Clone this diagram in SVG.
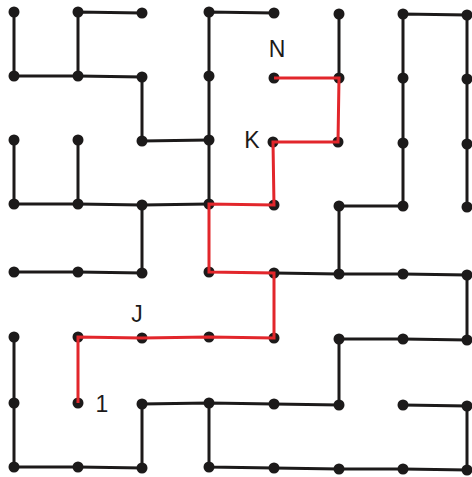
<svg xmlns="http://www.w3.org/2000/svg" width="472" height="477" viewBox="0 0 472 477">
<style>
.b{fill:none;stroke:#1c1a1a;stroke-width:3;stroke-linejoin:miter;stroke-linecap:butt}
.r{fill:none;stroke:#e2262b;stroke-width:3;stroke-linejoin:miter}
.n{fill:#1c1a1a}
.t{font-family:"Liberation Sans",Arial,sans-serif;font-size:23px;fill:#1c1a1a}
</style>
<rect width="472" height="477" fill="#ffffff"/>
<g id="connectors">
<polyline class="b" points="14,12 14,76 78,76 142,77 142,141 209,140"/>
<polyline class="b" points="142,13 78,12 78,76"/>
<polyline class="b" points="274,13 209,12 209,204"/>
<polyline class="b" points="14,140 14,204 78,204 142,205 209,204"/>
<polyline class="b" points="78,140 78,204"/>
<polyline class="b" points="142,205 142,273 78,272 14,272"/>
<polyline class="b" points="339,14 339,78"/>
<polyline class="b" points="403,206 403,14 467,15 467,207"/>
<polyline class="b" points="403,206 339,206 339,274"/>
<polyline class="b" points="274,273 339,274 403,274 467,275 467,340 403,339 339,339 339,405 274,404 209,403 142,404 142,468 78,467 14,467 14,337"/>
<polyline class="b" points="209,403 209,467 274,468 339,469 403,469 467,470 467,406 403,405"/>
</g>
<g id="nodes" class="n">
<g id="n00"><circle cx="14" cy="12" r="5.5"/></g>
<g id="n10"><circle cx="78" cy="12" r="5.5"/></g>
<g id="n20"><circle cx="142" cy="13" r="5.5"/></g>
<g id="n30"><circle cx="209" cy="12" r="5.5"/></g>
<g id="n40"><circle cx="274" cy="13" r="5.5"/></g>
<g id="n50"><circle cx="339" cy="14" r="5.5"/></g>
<g id="n60"><circle cx="403" cy="14" r="5.5"/></g>
<g id="n70"><circle cx="467" cy="15" r="5.5"/></g>

<g id="n01"><circle cx="14" cy="76" r="5.5"/></g>
<g id="n11"><circle cx="78" cy="76" r="5.5"/></g>
<g id="n21"><circle cx="142" cy="77" r="5.5"/></g>
<g id="n31"><circle cx="209" cy="76" r="5.5"/></g>
<g id="n41"><circle cx="274" cy="78" r="5.5"/><text class="t" x="277" y="57" text-anchor="middle">N</text></g>
<g id="n51"><circle cx="339" cy="78" r="5.5"/></g>
<g id="n61"><circle cx="403" cy="78" r="5.5"/></g>
<g id="n71"><circle cx="467" cy="79" r="5.5"/></g>

<g id="n02"><circle cx="14" cy="140" r="5.5"/></g>
<g id="n12"><circle cx="78" cy="140" r="5.5"/></g>
<g id="n22"><circle cx="142" cy="141" r="5.5"/></g>
<g id="n32"><circle cx="209" cy="140" r="5.5"/></g>
<g id="n42"><circle cx="273" cy="142" r="5.5"/><text class="t" x="252" y="148" text-anchor="middle">K</text></g>
<g id="n52"><circle cx="338" cy="142" r="5.5"/></g>
<g id="n62"><circle cx="403" cy="143" r="5.5"/></g>
<g id="n72"><circle cx="467" cy="144" r="5.5"/></g>

<g id="n03"><circle cx="14" cy="204" r="5.5"/></g>
<g id="n13"><circle cx="78" cy="204" r="5.5"/></g>
<g id="n23"><circle cx="142" cy="205" r="5.5"/></g>
<g id="n33"><circle cx="209" cy="204" r="5.5"/></g>
<g id="n43"><circle cx="274" cy="205" r="5.5"/></g>
<g id="n53"><circle cx="339" cy="206" r="5.5"/></g>
<g id="n63"><circle cx="403" cy="206" r="5.5"/></g>
<g id="n73"><circle cx="467" cy="207" r="5.5"/></g>

<g id="n04"><circle cx="14" cy="272" r="5.5"/></g>
<g id="n14"><circle cx="78" cy="272" r="5.5"/></g>
<g id="n24"><circle cx="142" cy="273" r="5.5"/></g>
<g id="n34"><circle cx="209" cy="272" r="5.5"/></g>
<g id="n44"><circle cx="274" cy="273" r="5.5"/></g>
<g id="n54"><circle cx="339" cy="274" r="5.5"/></g>
<g id="n64"><circle cx="403" cy="274" r="5.5"/></g>
<g id="n74"><circle cx="467" cy="275" r="5.5"/></g>

<g id="n05"><circle cx="14" cy="337" r="5.5"/></g>
<g id="n15"><circle cx="78" cy="337" r="5.5"/></g>
<g id="n25"><circle cx="142" cy="338" r="5.5"/><text class="t" x="137" y="322" text-anchor="middle">J</text></g>
<g id="n35"><circle cx="209" cy="337" r="5.5"/></g>
<g id="n45"><circle cx="274" cy="338" r="5.5"/></g>
<g id="n55"><circle cx="339" cy="339" r="5.5"/></g>
<g id="n65"><circle cx="403" cy="339" r="5.5"/></g>
<g id="n75"><circle cx="467" cy="340" r="5.5"/></g>

<g id="n06"><circle cx="14" cy="403" r="5.5"/></g>
<g id="n16"><circle cx="78" cy="403" r="5.5"/><text class="t" x="102" y="412" text-anchor="middle">1</text></g>
<g id="n26"><circle cx="142" cy="404" r="5.5"/></g>
<g id="n36"><circle cx="209" cy="403" r="5.5"/></g>
<g id="n46"><circle cx="274" cy="404" r="5.5"/></g>
<g id="n56"><circle cx="339" cy="405" r="5.5"/></g>
<g id="n66"><circle cx="403" cy="405" r="5.5"/></g>
<g id="n76"><circle cx="467" cy="406" r="5.5"/></g>

<g id="n07"><circle cx="14" cy="467" r="5.5"/></g>
<g id="n17"><circle cx="78" cy="467" r="5.5"/></g>
<g id="n27"><circle cx="142" cy="468" r="5.5"/></g>
<g id="n37"><circle cx="209" cy="467" r="5.5"/></g>
<g id="n47"><circle cx="274" cy="468" r="5.5"/></g>
<g id="n57"><circle cx="339" cy="469" r="5.5"/></g>
<g id="n67"><circle cx="403" cy="469" r="5.5"/></g>
<g id="n77"><circle cx="467" cy="470" r="5.5"/></g>
</g>
<g id="route">
<polyline class="r" points="274,78 339,78 338,142 273,142 274,205 209,204 209,272 274,273 274,338 209,337 142,338 78,337 78,403"/>
</g>
</svg>
